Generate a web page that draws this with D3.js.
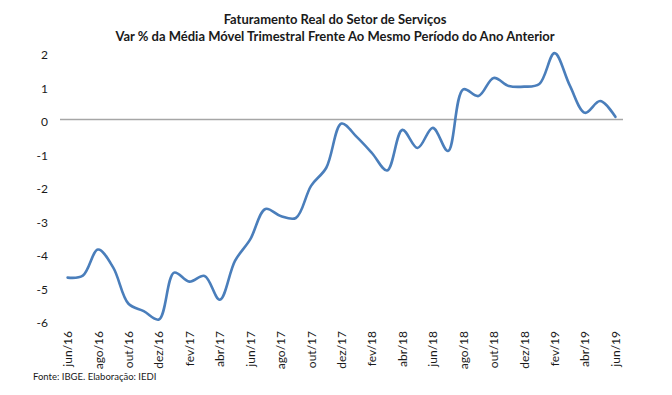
<!DOCTYPE html>
<html><head><meta charset="utf-8">
<script src="https://cdn.jsdelivr.net/npm/d3@7"></script>
<style>body{margin:0;background:#fff}svg{display:block}</style>
</head><body>
<script>
const months = ["jun/16","jul/16","ago/16","set/16","out/16","nov/16","dez/16","jan/17","fev/17","mar/17","abr/17","mai/17","jun/17","jul/17","ago/17","set/17","out/17","nov/17","dez/17","jan/18","fev/18","mar/18","abr/18","mai/18","jun/18","jul/18","ago/18","set/18","out/18","nov/18","dez/18","jan/19","fev/19","mar/19","abr/19","mai/19","jun/19"];
const values = [-4.72,-4.66,-3.88,-4.42,-5.50,-5.72,-5.97,-4.57,-4.84,-4.67,-5.38,-4.22,-3.58,-2.67,-2.88,-2.94,-1.98,-1.44,-0.12,-0.52,-1.00,-1.52,-0.31,-0.85,-0.25,-0.94,0.90,0.70,1.24,1.00,0.98,1.06,1.98,1.02,0.20,0.55,0.08];
const yTicks = [2,1,0,-1,-2,-3,-4,-5,-6];
const xTickLabels = months.filter((d,i)=>i%2===0);
const titleLines = ["Faturamento Real do Setor de Serviços","Var % da Média Móvel Trimestral Frente Ao Mesmo Período do Ano Anterior"];
const source = "Fonte: IBGE. Elaboração: IEDI";

const W=672,H=395;
const svg=d3.select("body").append("svg").attr("width",W).attr("height",H);
const font="Lato, 'Open Sans', sans-serif";

const x=d3.scaleBand().domain(months).range([60,623]);
const y=d3.scaleLinear().domain([-6,2]).range([320.5,52.5]);
const cx=d=>x(d)+x.bandwidth()/2;

svg.selectAll("text.title").data(titleLines).enter().append("text")
  .attr("x",335).attr("y",(d,i)=>24+i*17).attr("text-anchor","middle")
  .attr("font-family",font).attr("font-weight","bold").attr("font-size",13)
  .attr("fill","#1a1a1a").text(d=>d);

// y axis labels
const yAxis=d3.axisLeft(y).tickValues(yTicks).tickSize(0).tickPadding(0).tickFormat(d3.format("d"));
const ga=svg.append("g").attr("transform","translate(48,2.5)").call(yAxis);
ga.select(".domain").remove();
ga.selectAll("text").attr("font-family",font).attr("font-size",12).attr("fill","#1a1a1a").text(d=>d<0?"-"+Math.abs(d):d);

// zero line
svg.append("line").attr("x1",60).attr("x2",623).attr("y1",y(0)).attr("y2",y(0))
  .attr("stroke","#a6a6a6").attr("stroke-width",1.3);

// x labels
const xAxis=d3.axisBottom(x).tickValues(xTickLabels).tickSize(0).tickPadding(0);
const gx=svg.append("g").attr("transform","translate(0,331)").call(xAxis);
gx.select(".domain").remove();
gx.selectAll("text").attr("font-family",font).attr("font-size",12).attr("fill","#1a1a1a")
  .attr("text-anchor","end").attr("dy",null).attr("transform","rotate(-90)")
  .attr("x",0).attr("y",0).attr("dx",0)
  .attr("dominant-baseline","central");
gx.selectAll(".tick").each(function(d){
  d3.select(this).attr("transform",`translate(${cx(d)},0)`);
});

// line
const line=d3.line().x((d,i)=>cx(months[i])).y(d=>y(d)).curve(d3.curveCatmullRom.alpha(0.5));
svg.append("path").datum(values).attr("d",line).attr("fill","none")
  .attr("stroke","#4a7ebb").attr("stroke-width",2.6).attr("stroke-linejoin","round").attr("stroke-linecap","round");

svg.append("text").attr("x",33).attr("y",380).attr("font-family",font).attr("font-size",9.5)
  .attr("fill","#1a1a1a").text(source);
</script>
</body></html>
